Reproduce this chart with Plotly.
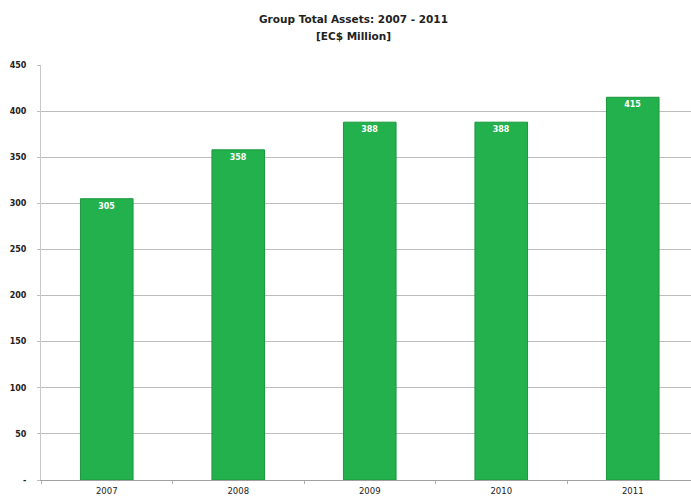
import plotly.graph_objects as go

years = ["2007", "2008", "2009", "2010", "2011"]
assets = [305, 358, 388, 388, 415]
y_ticks = [0, 50, 100, 150, 200, 250, 300, 350, 400, 450]
y_tick_labels = ["-", "50", "100", "150", "200", "250", "300", "350", "400", "450"]

fig = go.Figure()
fig.add_trace(go.Bar(
    x=years, y=assets,
    marker=dict(color="#22B14C", line=dict(color="#1C963F", width=1)),
    width=0.4,
    text=[f"<b>{v}</b>" for v in assets],
    textposition="inside",
    insidetextanchor="end",
    textfont=dict(color="white", size=8, family="DejaVu Sans"),
    textangle=0,
    cliponaxis=False,
))

fig.update_layout(
    width=691, height=497,
    margin=dict(l=41, r=0, t=65, b=17),
    paper_bgcolor="white", plot_bgcolor="white",
    showlegend=False,
    bargap=0.6,
    font=dict(family="DejaVu Sans", size=8, color="#222222"),
    annotations=[
        dict(text="<b>Group Total Assets: 2007 - 2011</b>", x=353, y=497-19, xref="paper", yref="paper",
             yanchor="middle", showarrow=False, font=dict(size=10.5, family="DejaVu Sans", color="#222222")),
        dict(text="<b>[EC$ Million]</b>", x=353, y=497-36, xref="paper", yref="paper",
             yanchor="middle", showarrow=False, font=dict(size=10.5, family="DejaVu Sans", color="#222222")),
    ],
)
# convert annotation pixel coords into paper coords
plot_w = 691 - 41
plot_h = 497 - 65 - 17
for a in fig.layout.annotations:
    px, py = a.x, a.y
    a.x = (px - 41) / plot_w
    a.y = (py - 17) / plot_h

fig.update_xaxes(
    range=[-0.5, 4.5 - (698.5 - 691) / 131.6],
    showline=True, linecolor="#A0A0A0", linewidth=1,
    ticks="outside", tickson="boundaries", ticklen=3, tickcolor="#B0B0B0",
    tickfont=dict(size=8.5, color="#222222"),
    ticklabelstandoff=3,
    showgrid=False,
)
fig.update_yaxes(
    range=[0, 450],
    tickvals=y_ticks, ticktext=[f"<b>{t}</b>" for t in y_tick_labels],
    showgrid=True, gridcolor="#BDBDBD", gridwidth=1,
    showline=True, linecolor="#C8C8C8", linewidth=1,
    ticks="outside", ticklen=3, tickcolor="#BDBDBD",
    tickfont=dict(size=8, color="#222222"),
    ticklabelstandoff=9,
    zeroline=False,
)

fig.write_html("out.html")
